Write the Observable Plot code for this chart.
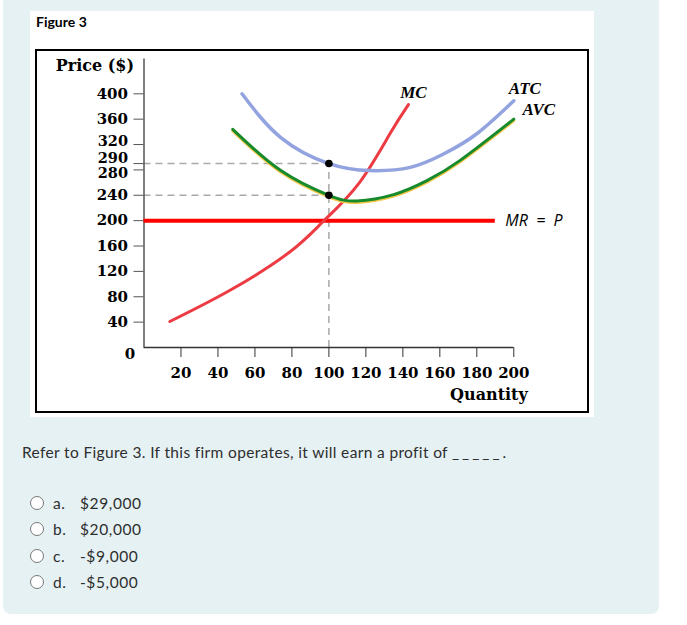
<!DOCTYPE html>
<html>
<head>
<meta charset="utf-8">
<script src="https://cdn.jsdelivr.net/npm/d3@7"></script>
<script src="https://cdn.jsdelivr.net/npm/@observablehq/plot@0.6"></script>
<style>
  body { margin: 0; background: #fff; width: 687px; height: 625px; position: relative; overflow: hidden; }
  #panel { position: absolute; left: 3px; top: -8px; width: 656px; height: 622px; background: #e6f1f4; border-radius: 8px; }
  #white { position: absolute; left: 30px; top: 11px; width: 564px; height: 406px; background: #fff; }
  #figtitle { position: absolute; left: 36px; top: 13px; font: bold 14px Lato, sans-serif; color: #000; }
  #chart { position: absolute; left: 35px; top: 49px; width: 554px; height: 364px; border: 2px solid #000; box-sizing: border-box; background: #fff; }
  #chart svg { display: block; }
  #question { position: absolute; left: 22px; top: 443px; font: 15.5px Lato, sans-serif; letter-spacing: 0.35px; color: #2e2e2e; white-space: nowrap; }
  #question .blank { letter-spacing: 3px; }
  .opt { position: absolute; left: 30px; font: 15.5px Lato, sans-serif; letter-spacing: 0.6px; color: #2e2e2e; height: 18px; line-height: 18px; }
  .opt .radio { position: absolute; left: 0; top: 2px; width: 12px; height: 12px; border: 1px solid #777; border-radius: 50%; background: #fff; }
  .opt .letter { position: absolute; left: 23px; }
  .opt .val { position: absolute; left: 50px; white-space: nowrap; }
</style>
</head>
<body>
<div id="panel"></div>
<div id="white"></div>
<div id="figtitle">Figure 3</div>
<div id="chart"></div>
<div id="question">Refer to Figure 3. If this firm operates, it will earn a profit of <span class="blank">_____</span>.</div>
<div id="options"></div>
<script>
// ---- data ----
const xTicks = [20, 40, 60, 80, 100, 120, 140, 160, 180, 200];
const yTicks = [40, 80, 120, 160, 200, 240, 280, 290, 320, 360, 400];

const mcQ = [14, 47, 79, 97, 116, 133, 143];
const mcP = [41, 91, 151, 199, 258, 337, 383];

const atcQ = [53, 74, 100, 122, 144, 162, 180, 200];
const atcP = [400, 331, 290, 279, 284, 305, 337, 389];

const avcQ = [48, 74, 100, 115, 135, 153, 171, 200];
const avcP = [344, 279, 240, 231, 241, 263, 295, 360];

const price = 200;          // MR = P
const mrEndQ = 190;
const qStar = 100;
const atcAtQ = 290;
const avcAtQ = 240;

const optionLetters = ["a.", "b.", "c.", "d."];
const optionValues = ["$29,000", "$20,000", "-$9,000", "-$5,000"];

// ---- build ----
const toPts = (qs, ps) => qs.map((q, i) => ({q, p: ps[i]}));
const mc = toPts(mcQ, mcP);
const atc = toPts(atcQ, atcP);
const avc = toPts(avcQ, avcP);

const serif = "DejaVu Serif, serif";
const labelFont = "Liberation Serif, Times New Roman, serif";
const tickFont = {fontFamily: serif, fontWeight: "bold", fontSize: 15};
const tightFont = {fontFamily: serif, fontWeight: "bold", fontSize: 14.5};

const yMain = yTicks.filter(t => t !== 280 && t !== 290 && t !== 320);

const plot = Plot.plot({
  width: 550,
  height: 360,
  marginLeft: 106.5,
  marginRight: 73.7,
  marginTop: 42.3,
  marginBottom: 64,
  x: {domain: [0, 200]},
  y: {domain: [0, 400]},
  style: {fontFamily: serif, fontSize: "15px", fontWeight: "bold", color: "#000", background: "#fff", overflow: "visible"},
  marks: [
    // dashed guides
    Plot.ruleY([atcAtQ, avcAtQ], {x1: 0, x2: qStar, stroke: "#a8a8a8", strokeWidth: 1.5, strokeDasharray: "7,5"}),
    Plot.ruleX([qStar], {y1: 0, y2: atcAtQ, stroke: "#a8a8a8", strokeWidth: 1.5, strokeDasharray: "7,5"}),
    // axes lines
    Plot.ruleY([0], {x1: 0, x2: 200, stroke: "#333", strokeWidth: 1.5}),
    Plot.ruleX([0], {y1: 0, y2: 455, stroke: "#555", strokeWidth: 1.5}),
    Plot.axisX({ticks: xTicks, tickSize: 10, tickPadding: 10, stroke: "#333", label: null, ...tickFont}),
    Plot.axisY({ticks: yTicks, tickSize: 10, tickFormat: () => "", stroke: "#555", label: null}),
    // y tick labels (320/290/280 nudged apart as in the original)
    Plot.text(yMain, {x: 0, y: d => d, text: d => String(d), textAnchor: "end", dx: -16, ...tickFont}),
    Plot.text([320], {x: 0, y: d => d, text: d => String(d), textAnchor: "end", dx: -16, dy: -3, ...tightFont}),
    Plot.text([290], {x: 0, y: d => d, text: d => String(d), textAnchor: "end", dx: -16, dy: -5, ...tightFont}),
    Plot.text([280], {x: 0, y: d => d, text: d => String(d), textAnchor: "end", dx: -16, dy: 3, ...tightFont}),
    // axis titles
    Plot.text(["Price ($)"], {x: 0, y: 444, text: d => d, textAnchor: "end", dx: -10, fontFamily: serif, fontWeight: "bold", fontSize: 16}),
    Plot.text(["0"], {x: 0, y: 0, text: d => d, dx: -14, dy: 7, ...tickFont}),
    Plot.text(["Quantity"], {x: 200, y: 0, text: d => d, textAnchor: "end", dx: 14, dy: 47, fontFamily: serif, fontWeight: "bold", fontSize: 16}),
    // MR = P
    Plot.ruleY([price], {x1: 0, x2: mrEndQ, stroke: "#ff0000", strokeWidth: 4}),
    Plot.text(["MR\u00A0\u00A0=\u00A0\u00A0P"], {x: mrEndQ, y: price, text: d => d, textAnchor: "start", dx: 10, fontFamily: "Open Sans, sans-serif", fontStyle: "italic", fontWeight: "normal", fontSize: 16}),
    // MC
    Plot.line(mc, {x: "q", y: "p", stroke: "#ec3b42", strokeWidth: 3, curve: "natural"}),
    // ATC
    Plot.line(atc, {x: "q", y: "p", stroke: "#92a3df", strokeWidth: 3.5, curve: "natural"}),
    // AVC (yellow edge + green)
    Plot.line(avc, {x: "q", y: "p", stroke: "#f4c64a", strokeWidth: 3, dy: 1.5, curve: "natural"}),
    Plot.line(avc, {x: "q", y: "p", stroke: "#178a2c", strokeWidth: 3, curve: "natural"}),
    // dots
    Plot.dot([{q: qStar, p: atcAtQ}, {q: qStar, p: avcAtQ}], {x: "q", y: "p", r: 3.8, fill: "#000", stroke: null}),
    // curve labels
    Plot.text([mc[mc.length - 1]], {x: "q", y: "p", text: () => "MC", dx: 5, dy: -12, fontFamily: labelFont, fontStyle: "italic", fontWeight: "bold", fontSize: 17}),
    Plot.text([atc[atc.length - 1]], {x: "q", y: "p", text: () => "ATC", dx: 11, dy: -12, fontFamily: labelFont, fontStyle: "italic", fontWeight: "bold", fontSize: 17}),
    Plot.text([avc[avc.length - 1]], {x: "q", y: "p", text: () => "AVC", dx: 25, dy: -10, fontFamily: labelFont, fontStyle: "italic", fontWeight: "bold", fontSize: 17})
  ]
});
document.getElementById("chart").appendChild(plot);

// options
const optTops = [494, 520, 547, 573];
const optBox = document.getElementById("options");
optionLetters.forEach((l, i) => {
  const d = document.createElement("div");
  d.className = "opt";
  d.style.top = optTops[i] + "px";
  d.innerHTML = `<span class="radio"></span><span class="letter">${l}</span><span class="val">${optionValues[i]}</span>`;
  optBox.appendChild(d);
});
</script>
</body>
</html>
